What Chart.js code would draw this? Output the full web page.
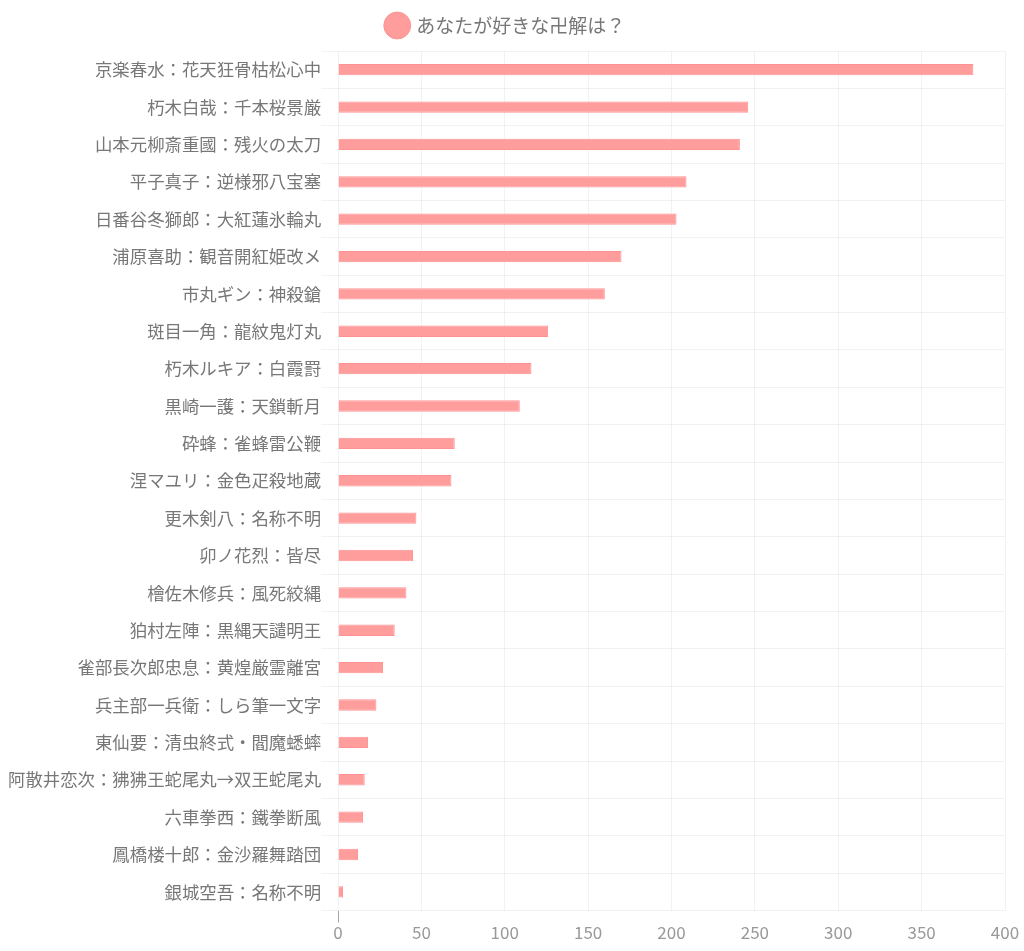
<!DOCTYPE html>
<html>
<head>
<meta charset="utf-8">
<script src="https://cdn.jsdelivr.net/npm/chart.js@4"></script>
<style>
html,body{margin:0;padding:0;background:#fff;}
#wrap{width:1024px;height:951px;}
</style>
</head>
<body>
<div id="wrap"><canvas id="c" width="1024" height="951"></canvas></div>
<script>
const seriesLabel = "あなたが好きな卍解は？";
const categories = [
  "京楽春水：花天狂骨枯松心中",
  "朽木白哉：千本桜景厳",
  "山本元柳斎重國：残火の太刀",
  "平子真子：逆様邪八宝塞",
  "日番谷冬獅郎：大紅蓮氷輪丸",
  "浦原喜助：観音開紅姫改メ",
  "市丸ギン：神殺鎗",
  "斑目一角：龍紋鬼灯丸",
  "朽木ルキア：白霞罸",
  "黒崎一護：天鎖斬月",
  "砕蜂：雀蜂雷公鞭",
  "涅マユリ：金色疋殺地蔵",
  "更木剣八：名称不明",
  "卯ノ花烈：皆尽",
  "檜佐木修兵：風死絞縄",
  "狛村左陣：黒縄天譴明王",
  "雀部長次郎忠息：黄煌厳霊離宮",
  "兵主部一兵衛：しら筆一文字",
  "東仙要：清虫終式・閻魔蟋蟀",
  "阿散井恋次：狒狒王蛇尾丸→双王蛇尾丸",
  "六車拳西：鐵拳断風",
  "鳳橋楼十郎：金沙羅舞踏団",
  "銀城空吾：名称不明"
];
const votes = [381, 246, 241, 209, 203, 170, 160, 126, 116, 109, 70, 68, 47, 45, 41, 34, 27, 23, 18, 16, 15, 12, 3];
const xTickMin = 0, xTickMax = 400, xTickStep = 50;

const FONT = "'Noto Sans CJK JP', 'Noto Sans', sans-serif";
const legendMargin = {
  id: 'legendMargin',
  beforeInit(chart) {
    const origFit = chart.legend.fit;
    chart.legend.fit = function () {
      origFit.call(this);
      this.height += 6;
    };
  }
};
new Chart(document.getElementById('c'), {
  type: 'bar',
  data: {
    labels: categories,
    datasets: [{
      label: seriesLabel,
      data: votes,
      backgroundColor: '#ff9c9c',
      borderColor: '#ff9292',
      borderWidth: 1,
      barPercentage: 0.38,
      categoryPercentage: 0.8
    }]
  },
  options: {
    indexAxis: 'y',
    responsive: false,
    animation: false,
    layout: { padding: { left: 8, right: 19, top: 4, bottom: 8 } },
    plugins: {
      legend: {
        position: 'top',
        labels: {
          usePointStyle: true,
          color: '#777',
          font: { family: FONT, size: 19 },
          padding: 12
        }
      },
      tooltip: { enabled: false }
    },
    scales: {
      x: {
        min: xTickMin, max: xTickMax,
        ticks: { stepSize: xTickStep, color: '#999', font: { family: FONT, size: 17 }, padding: 0 },
        grid: {
          color: 'rgba(0,0,0,0.05)',
          tickLength: 12,
          tickColor: ctx => (ctx.tick && ctx.tick.value === 0) ? 'rgba(0,0,0,0.35)' : 'rgba(0,0,0,0)'
        },
        border: { display: false }
      },
      y: {
        ticks: { color: '#777', font: { family: FONT, size: 17.4 }, padding: 0, autoSkip: false },
        grid: { color: 'rgba(0,0,0,0.05)', tickLength: 17, tickColor: 'rgba(0,0,0,0.05)' },
        border: { display: false }
      }
    }
  },
  plugins: [legendMargin]
});
</script>
</body>
</html>
